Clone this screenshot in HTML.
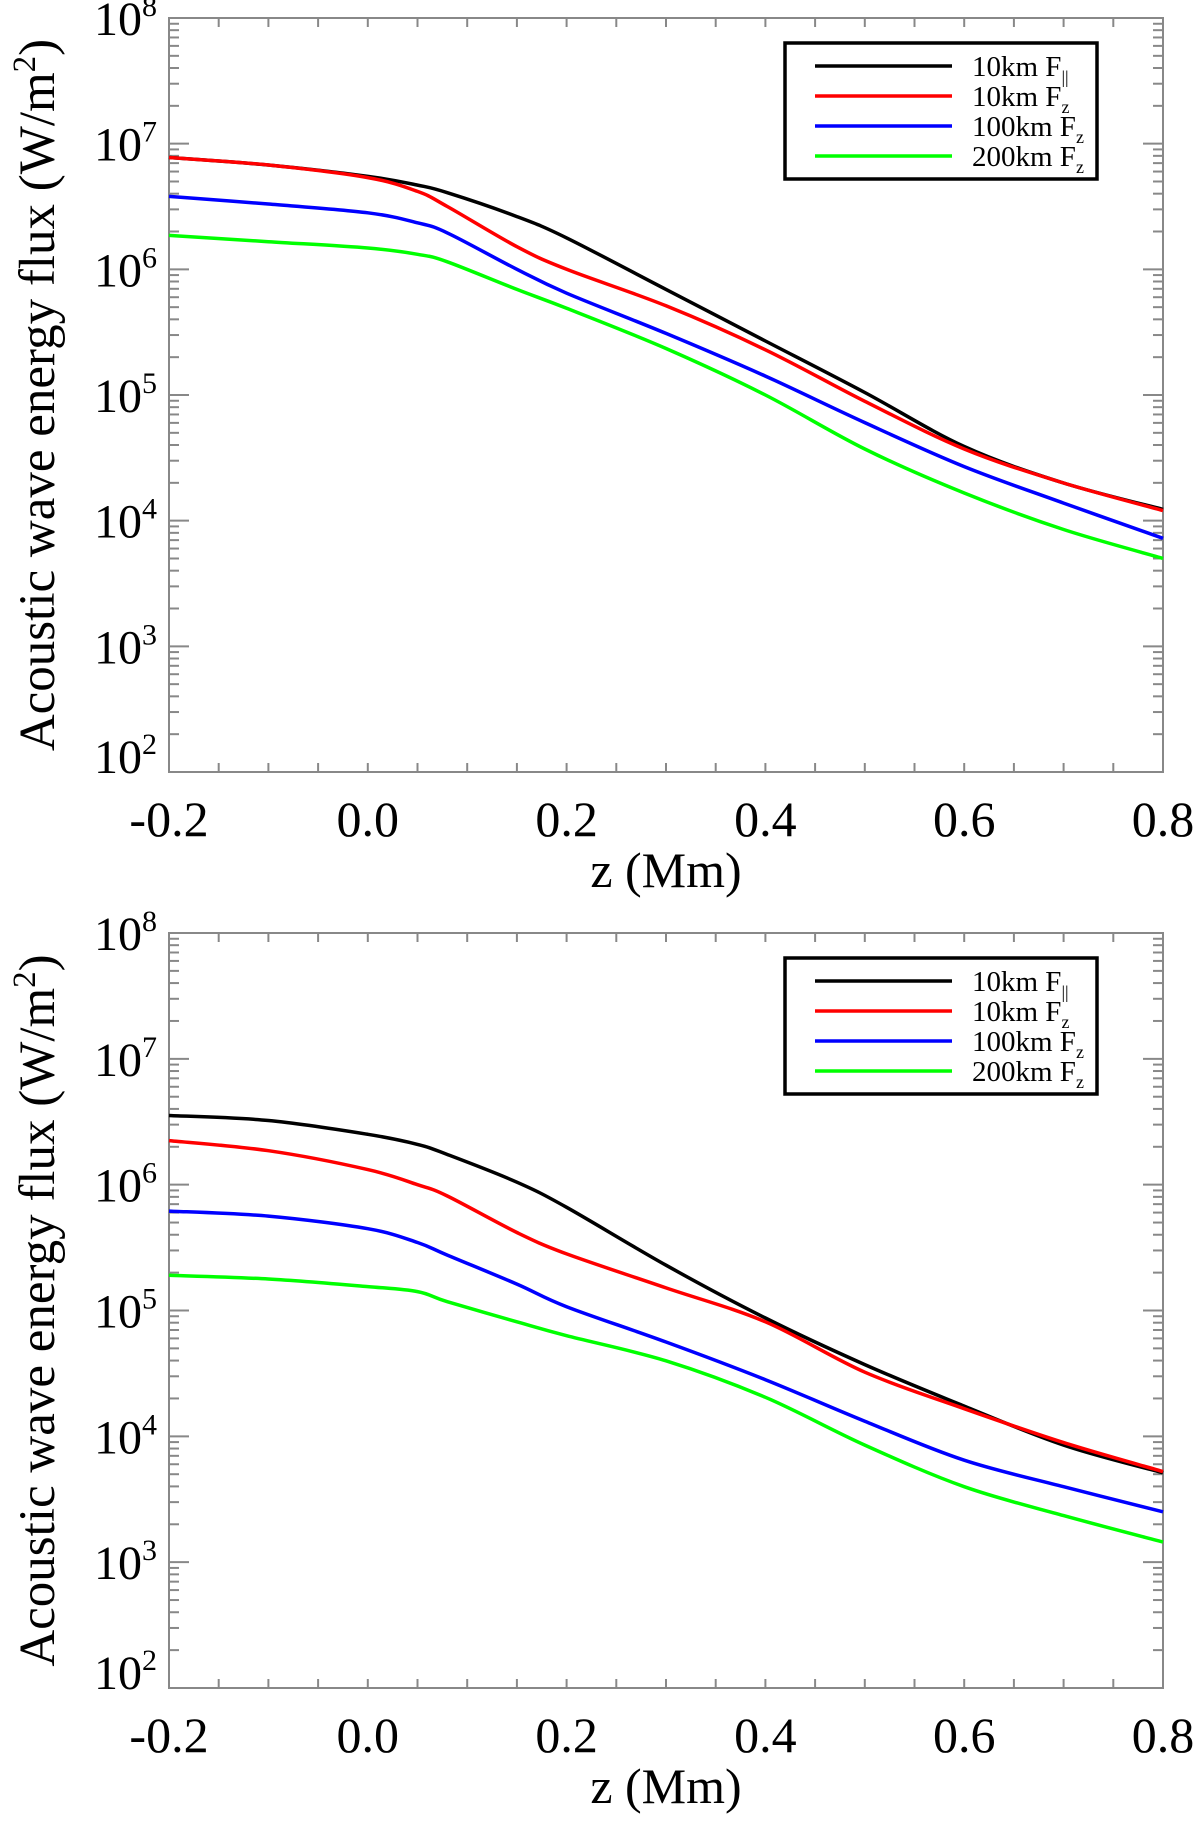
<!DOCTYPE html>
<html><head><meta charset="utf-8"><title>Acoustic wave energy flux</title>
<style>
html,body{margin:0;padding:0;background:#fff;}
svg{display:block;font-family:"Liberation Serif",serif;}
</style></head>
<body>
<svg id="fig" width="1200" height="1825" viewBox="0 0 1200 1825" xmlns="http://www.w3.org/2000/svg"></svg>
<script>
// shared x positions (Mm)
const zValues = [-0.2, -0.1, 0.0, 0.05, 0.08, 0.15, 0.2, 0.3, 0.4, 0.5, 0.6, 0.7, 0.8];
const xTickLabels = ["-0.2", "0.0", "0.2", "0.4", "0.6", "0.8"];
const yTickExps = [2, 3, 4, 5, 6, 7, 8];
const seriesNames = ["10km F\u2225", "10km Fz", "100km Fz", "200km Fz"];
// panel 1 log10 flux
const p1Black = [6.89, 6.83, 6.74, 6.67, 6.61, 6.42, 6.25, 5.84, 5.43, 5.02, 4.59, 4.30, 4.09];
const p1Red   = [6.89, 6.83, 6.73, 6.62, 6.50, 6.18, 6.00, 5.71, 5.36, 4.95, 4.57, 4.30, 4.08];
const p1Blue  = [6.58, 6.52, 6.45, 6.37, 6.29, 6.00, 5.81, 5.49, 5.15, 4.78, 4.43, 4.14, 3.86];
const p1Green = [6.27, 6.22, 6.17, 6.12, 6.06, 5.84, 5.69, 5.37, 5.00, 4.57, 4.22, 3.93, 3.70];
// panel 2 log10 flux
const p2Black = [6.55, 6.51, 6.40, 6.32, 6.24, 6.02, 5.82, 5.36, 4.94, 4.57, 4.24, 3.93, 3.71];
const p2Red   = [6.35, 6.27, 6.12, 6.00, 5.91, 5.62, 5.45, 5.18, 4.91, 4.51, 4.22, 3.95, 3.72];
const p2Blue  = [5.79, 5.75, 5.65, 5.54, 5.44, 5.21, 5.03, 4.75, 4.45, 4.12, 3.81, 3.60, 3.40];
const p2Green = [5.28, 5.25, 5.19, 5.15, 5.07, 4.91, 4.80, 4.60, 4.31, 3.93, 3.60, 3.37, 3.16];

const NS = "http://www.w3.org/2000/svg";
const svg = document.getElementById("fig");
const colors = ["#000000", "#ff0000", "#0000ff", "#00ff00"];
function mk(tag, attrs, parent) {
  const e = document.createElementNS(NS, tag);
  for (const k in attrs) e.setAttribute(k, attrs[k]);
  (parent || svg).appendChild(e);
  return e;
}
function smoothPath(pts) {
  let d = "M" + pts[0][0].toFixed(1) + "," + pts[0][1].toFixed(1);
  for (let i = 0; i < pts.length - 1; i++) {
    const p0 = pts[Math.max(0, i - 1)], p1 = pts[i], p2 = pts[i + 1], p3 = pts[Math.min(pts.length - 1, i + 2)];
    const c1x = p1[0] + (p2[0] - p0[0]) / 6, c1y = p1[1] + (p2[1] - p0[1]) / 6;
    const c2x = p2[0] - (p3[0] - p1[0]) / 6, c2y = p2[1] - (p3[1] - p1[1]) / 6;
    d += " C" + c1x.toFixed(1) + "," + c1y.toFixed(1) + " " + c2x.toFixed(1) + "," + c2y.toFixed(1) + " " + p2[0].toFixed(1) + "," + p2[1].toFixed(1);
  }
  return d;
}
function drawPanel(idx, top, bottom, data) {
  const L = 169, R = 1163;
  const g = mk("g", {});
  
  
  const xs = z => L + (z + 0.2) / 1.0 * (R - L);
  const ys = lg => bottom - (lg - 2) / 6 * (bottom - top);
  const dec = (bottom - top) / 6;
  const frame = mk("rect", {x: L, y: top, width: R - L, height: bottom - top, fill: "none", stroke: "#888", "stroke-width": 2}, g);
  
  
  for (let i = 0; i <= 20; i++) {
    const x = xs(-0.2 + i * 0.05);
    mk("line", {x1: x, y1: bottom, x2: x, y2: bottom - 9, stroke: "#888", "stroke-width": 2}, g);
    mk("line", {x1: x, y1: top, x2: x, y2: top + 9, stroke: "#888", "stroke-width": 2}, g);
  }
  xTickLabels.forEach((t, i) => {
    const tx = mk("text", {x: xs(-0.2 + i * 0.2), y: bottom + 64, "font-size": 50, "text-anchor": "middle", fill: "#000"}, g);
    tx.textContent = t;
    
    
  });
  const xt = mk("text", {x: (L + R) / 2, y: bottom + 115, "font-size": 50, "text-anchor": "middle", fill: "#000"}, g);
  xt.textContent = "z (Mm)";
  
  
  for (let d = 2; d <= 8; d++) {
    const y = ys(d);
    mk("line", {x1: L, y1: y, x2: L + 20, y2: y, stroke: "#888", "stroke-width": 2}, g);
    mk("line", {x1: R, y1: y, x2: R - 20, y2: y, stroke: "#888", "stroke-width": 2}, g);
    if (d < 8) for (let m = 2; m <= 9; m++) {
      const ym = y - Math.log10(m) * dec;
      mk("line", {x1: L, y1: ym, x2: L + 10, y2: ym, stroke: "#888", "stroke-width": 2}, g);
      mk("line", {x1: R, y1: ym, x2: R - 10, y2: ym, stroke: "#888", "stroke-width": 2}, g);
    }
  }
  yTickExps.forEach(e => {
    const by = e === 2 ? ys(e) + 1 : ys(e) + 17;
    const t = mk("text", {x: 157, y: by, "font-size": 48, "text-anchor": "end", fill: "#000"}, g);
    
    
    t.appendChild(document.createTextNode("10"));
    const s = mk("tspan", {dy: -19, "font-size": 30}, t);
    s.textContent = String(e);
  });
  const cy = (top + bottom) / 2;
  const yt = mk("text", {x: 0, y: 0, "font-size": 51, "text-anchor": "middle", fill: "#000", transform: "translate(54," + cy + ") rotate(-90)"}, g);
  
  
  yt.appendChild(document.createTextNode("Acoustic wave energy flux (W/m"));
  const sup = mk("tspan", {dy: -19, "font-size": 33}, yt);
  sup.textContent = "2";
  const cl = mk("tspan", {dy: 19}, yt);
  cl.textContent = ")";
  data.forEach((arr, si) => {
    const pts = arr.map((v, i) => [xs(zValues[i]), ys(v)]);
    const pl = mk("path", {d: smoothPath(pts), fill: "none", stroke: colors[si], "stroke-width": 3.5, "stroke-linejoin": "round"}, g);
    
    
  });
  const lg = mk("g", {}, g);
  
  
  const ly = top + 25;
  mk("rect", {x: 785, y: ly, width: 312, height: 136, fill: "#fff", stroke: "#000", "stroke-width": 3.5}, lg);
  seriesNames.forEach((n, si) => {
    const yy = ly + 23 + si * 30;
    const e = mk("g", {}, lg);
    
    
    mk("line", {x1: 815, y1: yy, x2: 952, y2: yy, stroke: colors[si], "stroke-width": 3.5}, e);
    const t = mk("text", {x: 972, y: yy + 10, "font-size": 29, fill: "#000"}, e);
    const parts = n.split(" ");
    t.appendChild(document.createTextNode(parts[0] + " F"));
    const sb = mk("tspan", {dy: 7, "font-size": 18}, t);
    sb.textContent = si === 0 ? "||" : "z";
  });
}
drawPanel(0, 18, 772, [p1Black, p1Red, p1Blue, p1Green]);
drawPanel(1, 933, 1688, [p2Black, p2Red, p2Blue, p2Green]);
</script>
</body></html>
